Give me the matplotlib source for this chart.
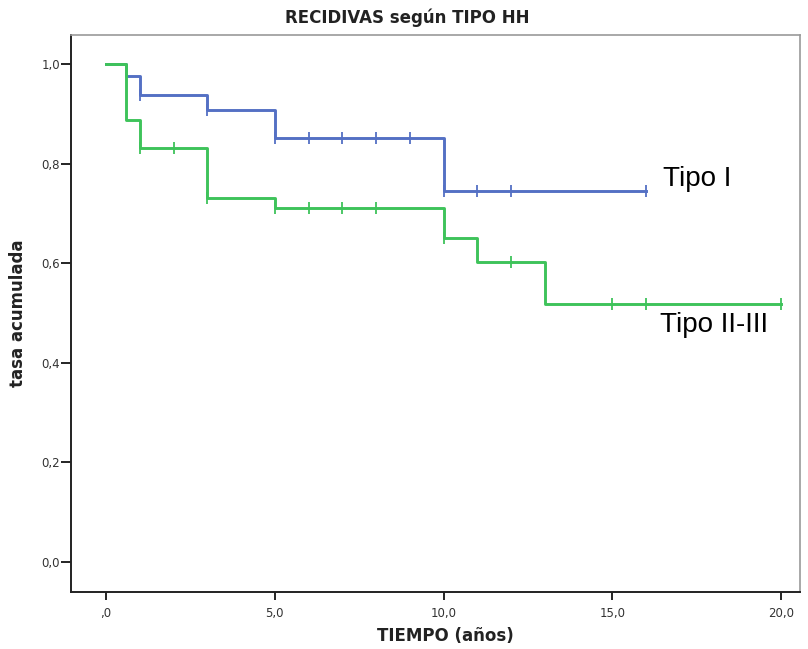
import matplotlib
matplotlib.use("Agg")
import matplotlib.pyplot as plt

# Data
tipo1_t = [0, 0.6, 1.0, 3.0, 5.0, 10.0, 16.0]
tipo1_s = [1.0, 0.976, 0.938, 0.908, 0.852, 0.745, 0.745]
tipo1_cens_t = [1, 3, 5, 6, 7, 8, 9, 10, 11, 12, 16]

tipo23_t = [0, 0.6, 1.0, 3.0, 5.0, 10.0, 11.0, 13.0, 20.0]
tipo23_s = [1.0, 0.887, 0.831, 0.731, 0.711, 0.650, 0.603, 0.518, 0.518]
tipo23_cens_t = [1, 2, 3, 5, 6, 7, 8, 10, 12, 15, 16, 20]

xticks = [0, 5, 10, 15, 20]
xticklabels = [",0", "5,0", "10,0", "15,0", "20,0"]
yticks = [0.0, 0.2, 0.4, 0.6, 0.8, 1.0]
yticklabels = ["0,0", "0,2", "0,4", "0,6", "0,8", "1,0"]

BLUE = "#5470C4"
GREEN = "#3EC35A"

def surv_at(ts, ss, x):
    v = ss[0]
    for t, s in zip(ts, ss):
        if t <= x:
            v = s
    return v

fig = plt.figure(figsize=(8.08, 6.49), dpi=100)
ax = fig.add_axes([71/808, (649-592)/649, (800-71)/808, (592-35)/649])

ax.step(tipo1_t, tipo1_s, where="post", color=BLUE, lw=2.1)
ax.plot(tipo1_cens_t, [surv_at(tipo1_t, tipo1_s, t) for t in tipo1_cens_t],
        ls="none", marker="|", ms=9, mew=1.3, color=BLUE)
ax.step(tipo23_t, tipo23_s, where="post", color=GREEN, lw=2.1)
ax.plot(tipo23_cens_t, [surv_at(tipo23_t, tipo23_s, t) for t in tipo23_cens_t],
        ls="none", marker="|", ms=9, mew=1.3, color=GREEN)

ax.set_xlim(-1.04, 20.56)
ax.set_ylim(-0.06, 1.058)
ax.set_xticks(xticks)
ax.set_xticklabels(xticklabels, fontsize=8.5, color="#333333")
ax.set_yticks(yticks)
ax.set_yticklabels(yticklabels, fontsize=8.5, color="#333333")
ax.tick_params(axis="x", direction="out", length=6, width=1.2, pad=5)
ax.tick_params(axis="y", direction="out", length=7, width=1.2, pad=1)

for s in ["top", "right"]:
    ax.spines[s].set_color("#9a9a9a")
    ax.spines[s].set_linewidth(1.2)
for s in ["left", "bottom"]:
    ax.spines[s].set_color("#222222")
    ax.spines[s].set_linewidth(1.4)

ax.set_xlabel("TIEMPO (años)", fontsize=12, fontweight="bold", color="#222222")
ax.set_ylabel("tasa acumulada", fontsize=12, fontweight="bold", color="#222222")
ax.xaxis.set_label_coords(445/808, 1 - 636/649, transform=fig.transFigure)
ax.yaxis.set_label_coords(18/808, 1 - 313/649, transform=fig.transFigure)
ax.xaxis.label.set_verticalalignment("center")
ax.yaxis.label.set_verticalalignment("center")

fig.text(407/808, 1 - 18/649, "RECIDIVAS según TIPO HH", fontsize=12, fontweight="bold",
         color="#222222", ha="center", va="center")

ax.text(16.5, 0.755, "Tipo I", fontsize=20, family="Liberation Sans", ha="left", va="baseline")
ax.text(16.42, 0.462, "Tipo II-III", fontsize=20, family="Liberation Sans", ha="left", va="baseline")

fig.savefig("out.png", dpi=100)
